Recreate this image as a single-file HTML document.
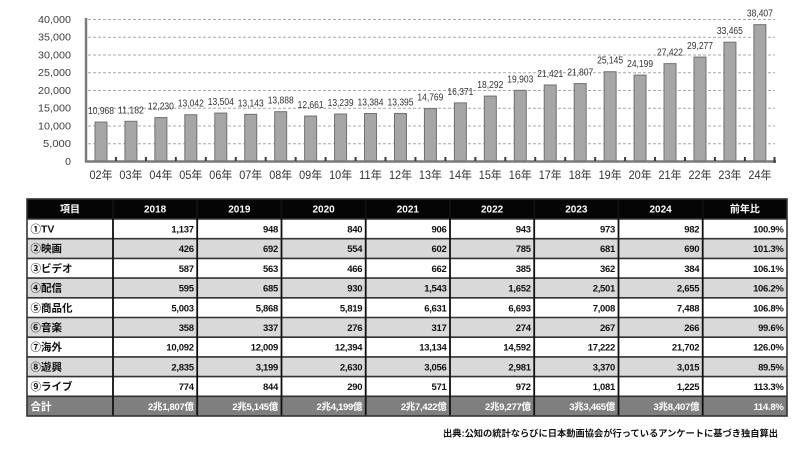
<!DOCTYPE html>
<html><head><meta charset="utf-8"><style>
html,body{margin:0;padding:0;background:#fff;width:800px;height:461px;overflow:hidden}
svg{display:block}
.yl{font-family:"Liberation Sans","Noto Sans CJK JP",sans-serif;font-size:10.5px;fill:#3c3c44;text-anchor:end}
.vl{font-family:"Liberation Sans","Noto Sans CJK JP",sans-serif;font-size:10px;fill:#333;text-anchor:middle}
.xl{font-family:"Liberation Sans","Noto Sans CJK JP",sans-serif;font-size:11.5px;fill:#333;text-anchor:middle}
.th{font-family:"Liberation Sans","Noto Sans CJK JP",sans-serif;font-size:10px;font-weight:bold;fill:#fff;text-anchor:middle}
.rl{font-family:"Liberation Sans","Noto Sans CJK JP",sans-serif;font-size:10.5px;font-weight:bold;fill:#111}
.n{font-family:"Liberation Sans","Noto Sans CJK JP",sans-serif;font-size:9.5px;font-weight:bold;fill:#111;text-anchor:end;letter-spacing:-0.3px}
.t{font-family:"Liberation Sans","Noto Sans CJK JP",sans-serif;font-size:9.5px;font-weight:bold;fill:#fff;text-anchor:end;letter-spacing:-0.3px}
.tl{font-family:"Liberation Sans","Noto Sans CJK JP",sans-serif;font-size:10.5px;font-weight:bold;fill:#fff}
.ft{font-family:"Liberation Sans","Noto Sans CJK JP",sans-serif;font-size:9px;font-weight:bold;fill:#111;text-anchor:end}
</style></head><body>
<svg width="800" height="461" viewBox="0 0 800 461" xmlns="http://www.w3.org/2000/svg">
<!-- gridlines -->
<g stroke="#a8a8a8" stroke-width="1" stroke-dasharray="3,2">
<line x1="88" y1="19.5" x2="775" y2="19.5"/>
<line x1="88" y1="37.2" x2="775" y2="37.2"/>
<line x1="88" y1="55" x2="775" y2="55"/>
<line x1="88" y1="72.7" x2="775" y2="72.7"/>
<line x1="88" y1="90.5" x2="775" y2="90.5"/>
<line x1="88" y1="108.2" x2="775" y2="108.2"/>
<line x1="88" y1="126" x2="775" y2="126"/>
<line x1="88" y1="143.7" x2="775" y2="143.7"/>
</g>
<!-- y labels -->
<text class="yl" x="71" y="23" textLength="33" lengthAdjust="spacingAndGlyphs">40,000</text>
<text class="yl" x="71" y="40.7" textLength="33" lengthAdjust="spacingAndGlyphs">35,000</text>
<text class="yl" x="71" y="58.5" textLength="33" lengthAdjust="spacingAndGlyphs">30,000</text>
<text class="yl" x="71" y="76.2" textLength="33" lengthAdjust="spacingAndGlyphs">25,000</text>
<text class="yl" x="71" y="94" textLength="33" lengthAdjust="spacingAndGlyphs">20,000</text>
<text class="yl" x="71" y="111.7" textLength="33" lengthAdjust="spacingAndGlyphs">15,000</text>
<text class="yl" x="71" y="129.5" textLength="33" lengthAdjust="spacingAndGlyphs">10,000</text>
<text class="yl" x="71" y="147.2" textLength="28" lengthAdjust="spacingAndGlyphs">5,000</text>
<text class="yl" x="71" y="165">0</text>
<!-- bars -->
<g fill="#a6a6a6" stroke="#707070" stroke-width="1">
<rect x="95" y="122.06" width="12" height="38.94"/>
<rect x="124.93" y="121.3" width="12" height="39.7"/>
<rect x="154.88" y="117.58" width="12" height="43.42"/>
<rect x="184.83" y="114.7" width="12" height="46.3"/>
<rect x="214.78" y="113.06" width="12" height="47.94"/>
<rect x="244.73" y="114.34" width="12" height="46.66"/>
<rect x="274.68" y="111.7" width="12" height="49.3"/>
<rect x="304.63" y="116.05" width="12" height="44.95"/>
<rect x="334.58" y="114" width="12" height="47"/>
<rect x="364.53" y="113.49" width="12" height="47.51"/>
<rect x="394.48" y="113.45" width="12" height="47.55"/>
<rect x="424.43" y="108.57" width="12" height="52.43"/>
<rect x="454.38" y="102.88" width="12" height="58.12"/>
<rect x="484.33" y="96.06" width="12" height="64.94"/>
<rect x="514.28" y="90.34" width="12" height="70.66"/>
<rect x="544.23" y="84.96" width="12" height="76.04"/>
<rect x="574.18" y="83.59" width="12" height="77.41"/>
<rect x="604.13" y="71.74" width="12" height="89.26"/>
<rect x="634.08" y="75.09" width="12" height="85.91"/>
<rect x="664.03" y="63.65" width="12" height="97.35"/>
<rect x="693.98" y="57.07" width="12" height="103.93"/>
<rect x="723.93" y="42.2" width="12" height="118.8"/>
<rect x="753.88" y="24.66" width="12" height="136.34"/>
</g>
<!-- value labels -->
<g>
<text class="vl" x="101" y="114" textLength="26" lengthAdjust="spacingAndGlyphs">10,968</text>
<text class="vl" x="130.9" y="113.3" textLength="26" lengthAdjust="spacingAndGlyphs">11,182</text>
<text class="vl" x="160.9" y="109.6" textLength="26" lengthAdjust="spacingAndGlyphs">12,230</text>
<text class="vl" x="190.8" y="106.7" textLength="26" lengthAdjust="spacingAndGlyphs">13,042</text>
<text class="vl" x="220.8" y="105.1" textLength="26" lengthAdjust="spacingAndGlyphs">13,504</text>
<text class="vl" x="250.7" y="106.3" textLength="26" lengthAdjust="spacingAndGlyphs">13,143</text>
<text class="vl" x="280.7" y="103.7" textLength="26" lengthAdjust="spacingAndGlyphs">13,888</text>
<text class="vl" x="310.6" y="108" textLength="26" lengthAdjust="spacingAndGlyphs">12,661</text>
<text class="vl" x="340.6" y="106" textLength="26" lengthAdjust="spacingAndGlyphs">13,239</text>
<text class="vl" x="370.5" y="105.5" textLength="26" lengthAdjust="spacingAndGlyphs">13,384</text>
<text class="vl" x="400.5" y="105.4" textLength="26" lengthAdjust="spacingAndGlyphs">13,395</text>
<text class="vl" x="430.4" y="100.6" textLength="26" lengthAdjust="spacingAndGlyphs">14,769</text>
<text class="vl" x="460.4" y="94.9" textLength="26" lengthAdjust="spacingAndGlyphs">16,371</text>
<text class="vl" x="490.3" y="88.1" textLength="26" lengthAdjust="spacingAndGlyphs">18,292</text>
<text class="vl" x="520.3" y="82.3" textLength="26" lengthAdjust="spacingAndGlyphs">19,903</text>
<text class="vl" x="550.2" y="77" textLength="26" lengthAdjust="spacingAndGlyphs">21,421</text>
<text class="vl" x="580.2" y="75.6" textLength="26" lengthAdjust="spacingAndGlyphs">21,807</text>
<text class="vl" x="610.1" y="63.7" textLength="26" lengthAdjust="spacingAndGlyphs">25,145</text>
<text class="vl" x="640.1" y="67.1" textLength="26" lengthAdjust="spacingAndGlyphs">24,199</text>
<text class="vl" x="670" y="55.6" textLength="26" lengthAdjust="spacingAndGlyphs">27,422</text>
<text class="vl" x="700" y="49.1" textLength="26" lengthAdjust="spacingAndGlyphs">29,277</text>
<text class="vl" x="729.9" y="34.2" textLength="26" lengthAdjust="spacingAndGlyphs">33,465</text>
<text class="vl" x="759.9" y="16.7" textLength="26" lengthAdjust="spacingAndGlyphs">38,407</text>
</g>
<!-- axes -->
<line x1="86" y1="18" x2="86" y2="162.5" stroke="#7a7a7a" stroke-width="2.5"/>
<line x1="85" y1="161.5" x2="776" y2="161.5" stroke="#7a7a7a" stroke-width="2.5"/>
<g stroke="#3a3a3a" stroke-width="2">
<line x1="115.95" y1="157" x2="115.95" y2="161"/>
<line x1="145.9" y1="157" x2="145.9" y2="161"/>
<line x1="175.85" y1="157" x2="175.85" y2="161"/>
<line x1="205.8" y1="157" x2="205.8" y2="161"/>
<line x1="235.75" y1="157" x2="235.75" y2="161"/>
<line x1="265.7" y1="157" x2="265.7" y2="161"/>
<line x1="295.65" y1="157" x2="295.65" y2="161"/>
<line x1="325.6" y1="157" x2="325.6" y2="161"/>
<line x1="355.55" y1="157" x2="355.55" y2="161"/>
<line x1="385.5" y1="157" x2="385.5" y2="161"/>
<line x1="415.45" y1="157" x2="415.45" y2="161"/>
<line x1="445.4" y1="157" x2="445.4" y2="161"/>
<line x1="475.35" y1="157" x2="475.35" y2="161"/>
<line x1="505.3" y1="157" x2="505.3" y2="161"/>
<line x1="535.25" y1="157" x2="535.25" y2="161"/>
<line x1="565.2" y1="157" x2="565.2" y2="161"/>
<line x1="595.15" y1="157" x2="595.15" y2="161"/>
<line x1="625.1" y1="157" x2="625.1" y2="161"/>
<line x1="655.05" y1="157" x2="655.05" y2="161"/>
<line x1="685" y1="157" x2="685" y2="161"/>
<line x1="714.95" y1="157" x2="714.95" y2="161"/>
<line x1="744.9" y1="157" x2="744.9" y2="161"/>
<line x1="774.5" y1="157" x2="774.5" y2="163"/>
</g>
<!-- x labels -->
<g>
<text class="xl" x="101" y="179" textLength="23" lengthAdjust="spacingAndGlyphs">02年</text>
<text class="xl" x="130.9" y="179" textLength="23" lengthAdjust="spacingAndGlyphs">03年</text>
<text class="xl" x="160.9" y="179" textLength="23" lengthAdjust="spacingAndGlyphs">04年</text>
<text class="xl" x="190.8" y="179" textLength="23" lengthAdjust="spacingAndGlyphs">05年</text>
<text class="xl" x="220.8" y="179" textLength="23" lengthAdjust="spacingAndGlyphs">06年</text>
<text class="xl" x="250.7" y="179" textLength="23" lengthAdjust="spacingAndGlyphs">07年</text>
<text class="xl" x="280.7" y="179" textLength="23" lengthAdjust="spacingAndGlyphs">08年</text>
<text class="xl" x="310.6" y="179" textLength="23" lengthAdjust="spacingAndGlyphs">09年</text>
<text class="xl" x="340.6" y="179" textLength="23" lengthAdjust="spacingAndGlyphs">10年</text>
<text class="xl" x="370.5" y="179" textLength="23" lengthAdjust="spacingAndGlyphs">11年</text>
<text class="xl" x="400.5" y="179" textLength="23" lengthAdjust="spacingAndGlyphs">12年</text>
<text class="xl" x="430.4" y="179" textLength="23" lengthAdjust="spacingAndGlyphs">13年</text>
<text class="xl" x="460.4" y="179" textLength="23" lengthAdjust="spacingAndGlyphs">14年</text>
<text class="xl" x="490.3" y="179" textLength="23" lengthAdjust="spacingAndGlyphs">15年</text>
<text class="xl" x="520.3" y="179" textLength="23" lengthAdjust="spacingAndGlyphs">16年</text>
<text class="xl" x="550.2" y="179" textLength="23" lengthAdjust="spacingAndGlyphs">17年</text>
<text class="xl" x="580.2" y="179" textLength="23" lengthAdjust="spacingAndGlyphs">18年</text>
<text class="xl" x="610.1" y="179" textLength="23" lengthAdjust="spacingAndGlyphs">19年</text>
<text class="xl" x="640.1" y="179" textLength="23" lengthAdjust="spacingAndGlyphs">20年</text>
<text class="xl" x="670" y="179" textLength="23" lengthAdjust="spacingAndGlyphs">21年</text>
<text class="xl" x="700" y="179" textLength="23" lengthAdjust="spacingAndGlyphs">22年</text>
<text class="xl" x="729.9" y="179" textLength="23" lengthAdjust="spacingAndGlyphs">23年</text>
<text class="xl" x="759.9" y="179" textLength="23" lengthAdjust="spacingAndGlyphs">24年</text>
</g>

<!-- TABLE backgrounds -->
<rect x="27" y="199" width="760" height="20" fill="#050505"/>
<rect x="27" y="238.7" width="760" height="19.7" fill="#d9d9d9"/>
<rect x="27" y="278.1" width="760" height="19.7" fill="#d9d9d9"/>
<rect x="27" y="317.5" width="760" height="19.7" fill="#d9d9d9"/>
<rect x="27" y="356.9" width="760" height="19.7" fill="#d9d9d9"/>
<rect x="27" y="396.3" width="760" height="19.7" fill="#7f7f7f"/>
<!-- grid lines -->
<g stroke="#333" stroke-width="1.6">
<line x1="27" y1="219" x2="787" y2="219"/>
<line x1="27" y1="238.7" x2="787" y2="238.7"/>
<line x1="27" y1="258.4" x2="787" y2="258.4"/>
<line x1="27" y1="278.1" x2="787" y2="278.1"/>
<line x1="27" y1="297.8" x2="787" y2="297.8"/>
<line x1="27" y1="317.5" x2="787" y2="317.5"/>
<line x1="27" y1="337.2" x2="787" y2="337.2"/>
<line x1="27" y1="356.9" x2="787" y2="356.9"/>
<line x1="27" y1="376.6" x2="787" y2="376.6"/>
<line x1="27" y1="396.3" x2="787" y2="396.3"/>
</g>
<g stroke="#111" stroke-width="1.8">
<line x1="113" y1="199" x2="113" y2="416"/>
<line x1="197.2" y1="199" x2="197.2" y2="416"/>
<line x1="281.5" y1="199" x2="281.5" y2="416"/>
<line x1="365.7" y1="199" x2="365.7" y2="416"/>
<line x1="450" y1="199" x2="450" y2="416"/>
<line x1="534.2" y1="199" x2="534.2" y2="416"/>
<line x1="618.5" y1="199" x2="618.5" y2="416"/>
<line x1="702.7" y1="199" x2="702.7" y2="416"/>
</g>
<rect x="27" y="199" width="760" height="217" fill="none" stroke="#333" stroke-width="1.6"/>
<!-- header -->
<text class="th" x="70" y="212.5">項目</text>
<text class="th" x="155.1" y="212.5">2018</text>
<text class="th" x="239.35" y="212.5">2019</text>
<text class="th" x="323.6" y="212.5">2020</text>
<text class="th" x="407.85" y="212.5">2021</text>
<text class="th" x="492.1" y="212.5">2022</text>
<text class="th" x="576.35" y="212.5">2023</text>
<text class="th" x="660.6" y="212.5">2024</text>
<text class="th" x="744.85" y="212.5">前年比</text>
<!-- row labels -->
<text class="rl" x="30.5" y="232.5">①TV</text>
<text class="rl" x="30.5" y="252.2">②映画</text>
<text class="rl" x="30.5" y="271.9">③ビデオ</text>
<text class="rl" x="30.5" y="291.6">④配信</text>
<text class="rl" x="30.5" y="311.3">⑤商品化</text>
<text class="rl" x="30.5" y="331">⑥音楽</text>
<text class="rl" x="30.5" y="350.7">⑦海外</text>
<text class="rl" x="30.5" y="370.4">⑧遊興</text>
<text class="rl" x="30.5" y="390.1">⑨ライブ</text>
<text class="tl" x="30.5" y="409.8">合計</text>
<!-- row 1 -->
<g>
<text class="n" x="193.7" y="232.5">1,137</text><text class="n" x="278" y="232.5">948</text><text class="n" x="362.2" y="232.5">840</text><text class="n" x="446.5" y="232.5">906</text><text class="n" x="530.7" y="232.5">943</text><text class="n" x="615" y="232.5">973</text><text class="n" x="699.2" y="232.5">982</text><text class="n" x="783.5" y="232.5">100.9%</text>
<text class="n" x="193.7" y="252.2">426</text><text class="n" x="278" y="252.2">692</text><text class="n" x="362.2" y="252.2">554</text><text class="n" x="446.5" y="252.2">602</text><text class="n" x="530.7" y="252.2">785</text><text class="n" x="615" y="252.2">681</text><text class="n" x="699.2" y="252.2">690</text><text class="n" x="783.5" y="252.2">101.3%</text>
<text class="n" x="193.7" y="271.9">587</text><text class="n" x="278" y="271.9">563</text><text class="n" x="362.2" y="271.9">466</text><text class="n" x="446.5" y="271.9">662</text><text class="n" x="530.7" y="271.9">385</text><text class="n" x="615" y="271.9">362</text><text class="n" x="699.2" y="271.9">384</text><text class="n" x="783.5" y="271.9">106.1%</text>
<text class="n" x="193.7" y="291.6">595</text><text class="n" x="278" y="291.6">685</text><text class="n" x="362.2" y="291.6">930</text><text class="n" x="446.5" y="291.6">1,543</text><text class="n" x="530.7" y="291.6">1,652</text><text class="n" x="615" y="291.6">2,501</text><text class="n" x="699.2" y="291.6">2,655</text><text class="n" x="783.5" y="291.6">106.2%</text>
<text class="n" x="193.7" y="311.3">5,003</text><text class="n" x="278" y="311.3">5,868</text><text class="n" x="362.2" y="311.3">5,819</text><text class="n" x="446.5" y="311.3">6,631</text><text class="n" x="530.7" y="311.3">6,693</text><text class="n" x="615" y="311.3">7,008</text><text class="n" x="699.2" y="311.3">7,488</text><text class="n" x="783.5" y="311.3">106.8%</text>
<text class="n" x="193.7" y="331">358</text><text class="n" x="278" y="331">337</text><text class="n" x="362.2" y="331">276</text><text class="n" x="446.5" y="331">317</text><text class="n" x="530.7" y="331">274</text><text class="n" x="615" y="331">267</text><text class="n" x="699.2" y="331">266</text><text class="n" x="783.5" y="331">99.6%</text>
<text class="n" x="193.7" y="350.7">10,092</text><text class="n" x="278" y="350.7">12,009</text><text class="n" x="362.2" y="350.7">12,394</text><text class="n" x="446.5" y="350.7">13,134</text><text class="n" x="530.7" y="350.7">14,592</text><text class="n" x="615" y="350.7">17,222</text><text class="n" x="699.2" y="350.7">21,702</text><text class="n" x="783.5" y="350.7">126.0%</text>
<text class="n" x="193.7" y="370.4">2,835</text><text class="n" x="278" y="370.4">3,199</text><text class="n" x="362.2" y="370.4">2,630</text><text class="n" x="446.5" y="370.4">3,056</text><text class="n" x="530.7" y="370.4">2,981</text><text class="n" x="615" y="370.4">3,370</text><text class="n" x="699.2" y="370.4">3,015</text><text class="n" x="783.5" y="370.4">89.5%</text>
<text class="n" x="193.7" y="390.1">774</text><text class="n" x="278" y="390.1">844</text><text class="n" x="362.2" y="390.1">290</text><text class="n" x="446.5" y="390.1">571</text><text class="n" x="530.7" y="390.1">972</text><text class="n" x="615" y="390.1">1,081</text><text class="n" x="699.2" y="390.1">1,225</text><text class="n" x="783.5" y="390.1">113.3%</text>
<text class="t" x="193.7" y="409.8">2兆1,807億</text><text class="t" x="278" y="409.8">2兆5,145億</text><text class="t" x="362.2" y="409.8">2兆4,199億</text><text class="t" x="446.5" y="409.8">2兆7,422億</text><text class="t" x="530.7" y="409.8">2兆9,277億</text><text class="t" x="615" y="409.8">3兆3,465億</text><text class="t" x="699.2" y="409.8">3兆8,407億</text><text class="t" x="783.5" y="409.8">114.8%</text>
</g>
<!-- footer -->
<text class="ft" x="778" y="436.5" textLength="335" lengthAdjust="spacingAndGlyphs">出典:公知の統計ならびに日本動画協会が行っているアンケートに基づき独自算出</text>
</svg>
</body></html>
